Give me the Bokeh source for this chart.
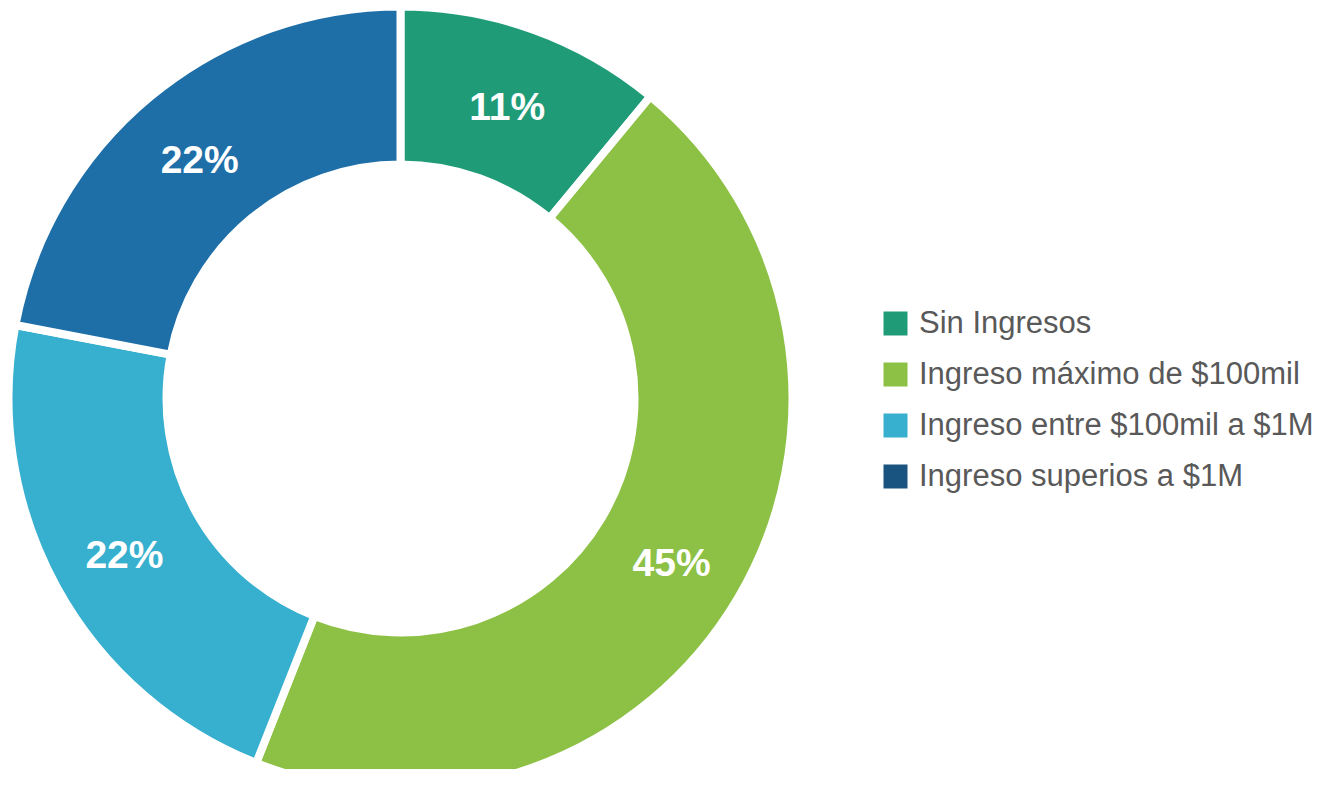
import numpy as np
from bokeh.plotting import figure
from bokeh.models import Range1d, ColumnDataSource, Legend, LegendItem
from bokeh.core.properties import value
from bokeh.embed import file_html
from bokeh.resources import INLINE

categories = ["Sin Ingresos", "Ingreso máximo de $100mil",
              "Ingreso entre $100mil a $1M", "Ingreso superios a $1M"]
values = [11, 45, 22, 22]
labels = ["11%", "45%", "22%", "22%"]
wedge_colors = ["#1f9b78", "#8cc145", "#37afcf", "#1e6fa8"]
legend_colors = ["#1f9b78", "#8cc145", "#37afcf", "#19537f"]

W, H = 1316, 769
cx, cy = 400, H - 398
r_out, r_in = 392, 234

vals = np.array(values, dtype=float)
frac = vals / vals.sum()
cum = np.concatenate([[0], np.cumsum(frac)])
start = np.pi / 2 - cum[:-1] * 2 * np.pi
end = np.pi / 2 - cum[1:] * 2 * np.pi
mid = (start + end) / 2
r_lab = 315

src = ColumnDataSource(dict(
    start=start, end=end, color=wedge_colors, cat=categories,
    lx=cx + r_lab * np.cos(mid), ly=cy + r_lab * np.sin(mid), lab=labels,
))

p = figure(width=W, height=H, x_range=Range1d(0, W), y_range=Range1d(0, H),
           output_backend="svg", toolbar_location=None, min_border=0,
           outline_line_color=None)
p.axis.visible = False
p.grid.visible = False

p.annular_wedge(x=cx, y=cy, inner_radius=r_in, outer_radius=r_out,
                start_angle="end", end_angle="start", direction="anticlock",
                fill_color="color", line_color="white", line_width=8, source=src)

p.text(x="lx", y="ly", text="lab", source=src, text_color="white",
       text_font=value("Liberation Sans"), text_font_style="bold",
       text_font_size="39px", text_align="center", text_baseline="middle",
       y_offset=4)

items = []
for name, col in zip(categories, legend_colors):
    r = p.quad(left=[np.nan], right=[np.nan], top=[np.nan], bottom=[np.nan],
               fill_color=col, line_color=None)
    items.append(LegendItem(label=name, renderers=[r]))

legend = Legend(items=items, location=(880, 275), orientation="vertical",
                glyph_width=30, glyph_height=30, label_standoff=9, spacing=15,
                padding=0, margin=0, border_line_color=None,
                background_fill_alpha=0,
                label_text_font="Liberation Sans", label_text_font_size="31px",
                label_text_color="#595959")
p.add_layout(legend)

open("out.html", "w").write(file_html(p, INLINE))
